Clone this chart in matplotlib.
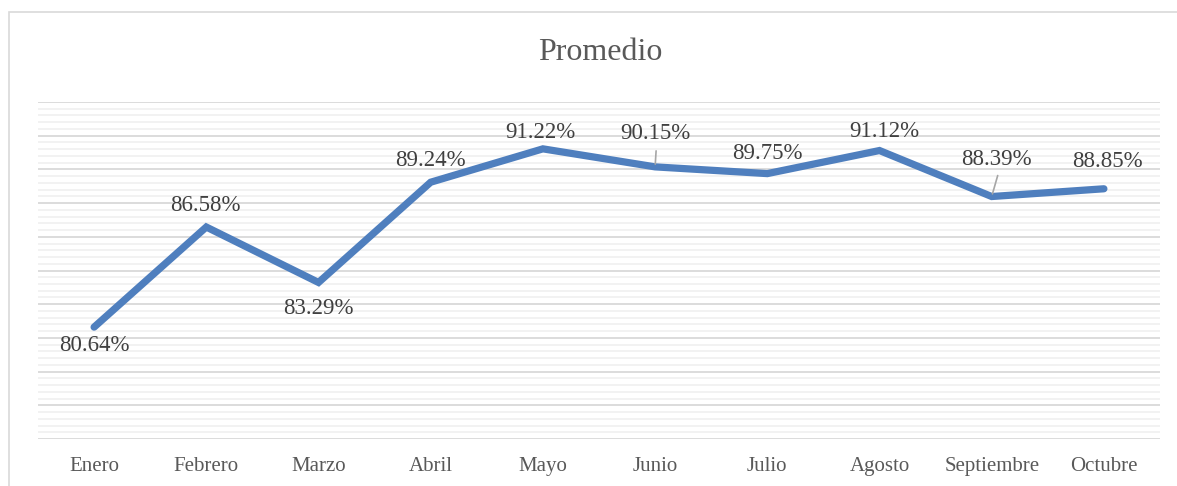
import matplotlib
matplotlib.use("Agg")
import matplotlib.pyplot as plt
from matplotlib.ticker import MultipleLocator
from matplotlib.patches import Rectangle

months = ["Enero", "Febrero", "Marzo", "Abril", "Mayo", "Junio", "Julio",
          "Agosto", "Septiembre", "Octubre"]
promedio = [80.64, 86.58, 83.29, 89.24, 91.22, 90.15, 89.75, 91.12, 88.39, 88.85]
labels = ["80.64%", "86.58%", "83.29%", "89.24%", "91.22%", "90.15%", "89.75%",
          "91.12%", "88.39%", "88.85%"]

# label offsets in pixels (dx, dy downward positive), and leader flag
offsets = [(0, 18), (-1, -22), (0, 26), (0, -22), (-3, -16), (0, -33),
           (0, -20), (5, -19), (5, -37), (4, -27)]
leaders = [False, False, False, False, False, True, False, False, True, False]

W, H = 1177, 486
dpi = 100
fig = plt.figure(figsize=(W / dpi, H / dpi), dpi=dpi)
plt.rcParams['font.family'] = ['Liberation Serif', 'DejaVu Serif']

# chart border
fig.patches.append(Rectangle((9 / W, -0.1), 1.1, (H - 12) / H + 0.1,
                             transform=fig.transFigure, fill=False,
                             edgecolor="#d9d9d9", linewidth=1.2))

left, right, top, bottom = 38, 1160, 102, 439
ax = fig.add_axes([left / W, 1 - bottom / H, (right - left) / W, (bottom - top) / H])
x = list(range(len(months)))
ax.plot(x, promedio, color="#4F7FBE", linewidth=5.2, solid_capstyle="round",
        solid_joinstyle="miter", zorder=3)

ax.set_xlim(-0.5, len(months) - 0.5)
ax.set_ylim(74, 94)
ax.yaxis.set_major_locator(MultipleLocator(2))
ax.yaxis.set_minor_locator(MultipleLocator(0.4))
ax.grid(which="major", axis="y", color="#d6d6d6", linewidth=1.2)
ax.grid(which="minor", axis="y", color="#f0f0f0", linewidth=1.2)
ax.set_axisbelow(True)
for s in ax.spines.values():
    s.set_visible(False)
ax.tick_params(axis="y", which="both", left=False, labelleft=False)
ax.set_xticks(x)
ax.set_xticklabels(months, fontsize=15, color="#595959")
ax.tick_params(axis="x", length=0, pad=13)

px2pt = 72 / dpi
for i, (v, lab) in enumerate(zip(promedio, labels)):
    dx, dy = offsets[i]
    ax.annotate(lab, (i, v), xytext=(dx * px2pt, -dy * px2pt),
                textcoords="offset points", ha="center", va="center",
                fontsize=16.5, color="#404040", zorder=4)
    if leaders[i]:
        if i == 5:
            ax.annotate("", (i, v), xytext=(1 * px2pt, -(dy + 17) * px2pt),
                        textcoords="offset points",
                        arrowprops=dict(arrowstyle="-", color="#a6a6a6", lw=1.2,
                                        shrinkA=0, shrinkB=2))
        else:
            ax.annotate("", (i, v), xytext=(6 * px2pt, -(dy + 16) * px2pt),
                        textcoords="offset points",
                        arrowprops=dict(arrowstyle="-", color="#a6a6a6", lw=1.2,
                                        shrinkA=0, shrinkB=2))

fig.text(600 / W, 1 - 52 / H, "Promedio", ha="center", va="center",
         fontsize=23, color="#595959")

fig.savefig("out.png", dpi=dpi)
